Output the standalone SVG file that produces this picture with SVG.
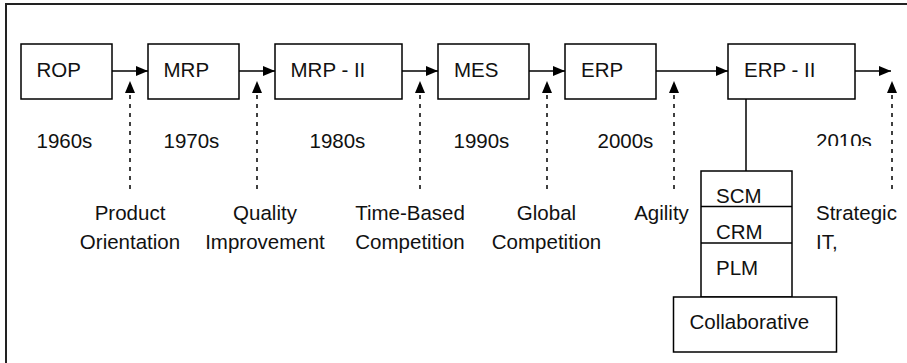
<svg xmlns="http://www.w3.org/2000/svg" width="907" height="363" viewBox="0 0 907 363">
  <defs>
    <marker id="head" viewBox="0 0 12 10" refX="12" refY="5" markerWidth="12" markerHeight="10" markerUnits="userSpaceOnUse" orient="auto">
      <path d="M0,0 L12,5 L0,10 Z" fill="#000"/>
    </marker>
    <clipPath id="cut2010">
      <rect x="800" y="120" width="100" height="26"/>
    </clipPath>
  </defs>
  <style>
    .box { fill: #fff; stroke: #000; stroke-width: 1.5; }
    .lbl { font-family: "Liberation Sans", Arial, sans-serif; font-size: 20.5px; fill: #111; }
    .mid { text-anchor: middle; }
    .flow { stroke: #000; stroke-width: 1.5; fill: none; marker-end: url(#head); }
    .drv { stroke: #000; stroke-width: 1.5; fill: none; stroke-dasharray: 4 5; marker-end: url(#head); }
    .link { stroke: #000; stroke-width: 1.5; fill: none; }
  </style>

  <rect width="907" height="363" fill="#fff"/>
  <!-- frame: top and left edges -->
  <path d="M6,363 V4 H907" fill="none" stroke="#222" stroke-width="2"/>

  <g id="rop"><rect class="box" x="21" y="44" width="91" height="55"/><text class="lbl" x="36.5" y="76.5">ROP</text></g>
  <g id="mrp"><rect class="box" x="148" y="44" width="91" height="55"/><text class="lbl" x="163.5" y="76.5">MRP</text></g>
  <g id="mrp2"><rect class="box" x="275" y="44" width="127" height="55"/><text class="lbl" x="290.5" y="76.5">MRP - II</text></g>
  <g id="mes"><rect class="box" x="438" y="44" width="91" height="55"/><text class="lbl" x="454" y="76.5">MES</text></g>
  <g id="erp"><rect class="box" x="565" y="44" width="91" height="55"/><text class="lbl" x="581" y="76.5">ERP</text></g>
  <g id="erp2"><rect class="box" x="728" y="44" width="127" height="55"/><text class="lbl" x="744" y="76.5">ERP - II</text></g>

  <g id="stack">
    <rect class="box" x="701" y="171" width="91" height="126"/>
    <line class="link" x1="701" y1="206.5" x2="792" y2="206.5"/>
    <line class="link" x1="701" y1="243" x2="792" y2="243"/>
    <text class="lbl" x="716" y="202.5">SCM</text>
    <text class="lbl" x="716" y="238.5">CRM</text>
    <text class="lbl" x="716" y="274.5">PLM</text>
  </g>
  <g id="collab"><rect class="box" x="673.5" y="297" width="163" height="55"/><text class="lbl" x="689.5" y="328.5">Collaborative</text></g>

  <g id="connectors">
    <line class="flow" x1="112" y1="71" x2="148" y2="71"/>
    <line class="flow" x1="239" y1="71" x2="275" y2="71"/>
    <line class="flow" x1="402" y1="71" x2="438" y2="71"/>
    <line class="flow" x1="529" y1="71" x2="565" y2="71"/>
    <line class="flow" x1="656" y1="71" x2="728" y2="71"/>
    <line class="flow" x1="855" y1="71" x2="891" y2="71"/>
    <line class="link" x1="746" y1="99" x2="746" y2="171"/>

    <line class="drv" x1="130" y1="189" x2="130" y2="81"/>
    <line class="drv" x1="257" y1="189" x2="257" y2="81"/>
    <line class="drv" x1="420" y1="189" x2="420" y2="81"/>
    <line class="drv" x1="547" y1="189" x2="547" y2="81"/>
    <line class="drv" x1="674" y1="189" x2="674" y2="81"/>
    <line class="drv" x1="892" y1="189" x2="892" y2="81"/>
  </g>

  <g id="decades">
    <text class="lbl" x="36.5" y="147.5">1960s</text>
    <text class="lbl" x="163.5" y="147.5">1970s</text>
    <text class="lbl" x="309.5" y="147.5">1980s</text>
    <text class="lbl" x="453.5" y="147.5">1990s</text>
    <text class="lbl" x="597.5" y="147.5">2000s</text>
    <text class="lbl" x="816" y="147.5" clip-path="url(#cut2010)">2010s</text>
  </g>

  <g id="drivers">
    <text class="lbl mid" x="130" y="219.5">Product</text>
    <text class="lbl mid" x="130" y="248.5">Orientation</text>
    <text class="lbl mid" x="265" y="219.5">Quality</text>
    <text class="lbl mid" x="265" y="248.5">Improvement</text>
    <text class="lbl mid" x="410" y="219.5">Time-Based</text>
    <text class="lbl mid" x="410" y="248.5">Competition</text>
    <text class="lbl mid" x="546.5" y="219.5">Global</text>
    <text class="lbl mid" x="546.5" y="248.5">Competition</text>
    <text class="lbl mid" x="661.5" y="219.5">Agility</text>
    <text class="lbl" x="816" y="219.5">Strategic</text>
    <text class="lbl" x="816" y="248.5">IT,</text>
  </g>
</svg>
